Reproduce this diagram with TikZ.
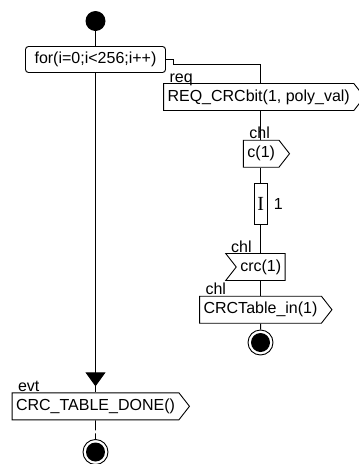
\documentclass[tikz,border=0pt]{standalone}
\usepackage{fontspec}
\setmainfont{Liberation Sans}
\newfontfamily\timerfont{Liberation Serif}
\usepackage{tikz}
\usetikzlibrary{shapes.symbols, arrows.meta, decorations.markings, positioning}

\begin{document}
\begin{tikzpicture}[x=1pt, y=-1pt, line width=0.9pt,
        txt/.style={font=\fontsize{16}{16}\selectfont},
        sendbox/.style={txt, draw, signal, signal to=east, signal from=nowhere, signal pointer angle=104, minimum height=27pt, inner xsep=4pt, inner ysep=0pt},
        recvbox/.style={txt, draw, signal, signal from=west, signal to=nowhere, signal pointer angle=104, minimum height=27pt, inner xsep=4pt, inner ysep=0pt},
        lab/.style={txt, anchor=base west, inner sep=0pt, xshift=6pt, yshift=1pt},
        startdot/.style={circle, fill=black, minimum size=20pt, inner sep=0pt},
        enddot/.style={circle, draw, minimum size=25pt, inner sep=0pt, path picture={\fill (path picture bounding box.center) circle (9.5pt);}},
        arrowmid/.style={postaction={decorate}, decoration={markings, mark=at position -6pt with {\arrow{Triangle[length=14pt, width=20pt]}}}}]
    \useasboundingbox (0,0) rectangle (359,464);
    \coordinate (sp) at (260.7,0);

    \node[startdot] (start) at (95.5,21) {};
    \node[txt, draw, rounded corners=3pt, minimum width=140pt, minimum height=26pt, inner sep=0pt] (for) at (95.5,59.5) {for(i=0;i<256;i++)};
    \node[sendbox, label={[lab]north west:req}] (req) at (258.7,97) {REQ\_CRCbit(1, poly\_val)};
    \node[sendbox, label={[lab]north west:chl}] (c1) at (261.2,153.7) {c(1)};
    \node[draw, minimum width=13.7pt, minimum height=41pt, inner sep=0pt, font=\timerfont\fontsize{20}{20}\selectfont,
          label={[txt, xshift=2pt]right:1}] (tmr) at (260.8,203.5) {I};
    \node[recvbox, label={[lab]north west:chl}] (crc) at (260.7,267) {crc(1)};
    \node[sendbox, label={[lab]north west:chl}] (tbl) at (260.5,309.7) {CRCTable\_in(1)};
    \node[enddot] (end1) at (260.5,342.5) {};
    \node[sendbox, label={[lab]north west:evt}] (done) at (95.5,406.3) {CRC\_TABLE\_DONE()};
    \node[enddot] (end2) at (95.5,452) {};

    \coordinate (lpa) at (173,59.5);
    \coordinate (lpb) at (173,64);
    \draw (start) -- (for);
    \draw[arrowmid] (for.south) -- (done.north);
    \draw[dash pattern=on 10pt off 3pt] (done) -- (end2);
    \draw (for.east) -- (lpa) -- (lpb) -- (lpb -| sp) -- (req.north -| sp);
    \draw (req.south -| sp) -- (c1.north -| sp);
    \draw (c1.south -| sp) -- (tmr.north -| sp);
    \draw (tmr.south -| sp) -- (crc.north -| sp);
    \draw (crc.south -| sp) -- (tbl.north -| sp);
    \draw (tbl.south -| sp) -- (end1);
\end{tikzpicture}
\end{document}
